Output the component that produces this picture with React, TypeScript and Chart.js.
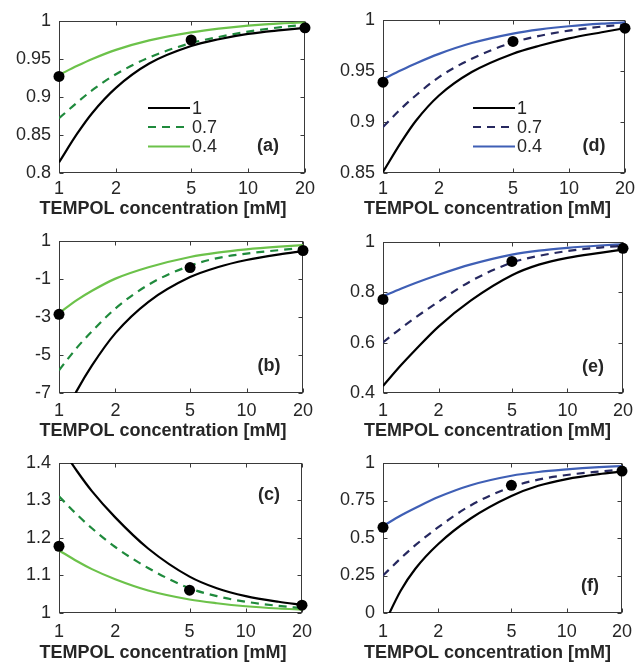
import React, { useEffect, useRef } from "react";
import { Chart, registerables } from "chart.js";

Chart.register(...registerables);

// ---------- data ----------
const concentrations = [1, 1.25, 1.5, 2, 3, 5, 7, 10, 15, 20];
const dotConcentrations = [1, 5, 20];
const xTicks = [1, 2, 5, 10, 20];
const xTickLabels = ["1", "2", "5", "10", "20"];
const legendLabels = ["1", "0.7", "0.4"];
const xTitle = "TEMPOL concentration [mM]";

const aBlack = [0.814, 0.852, 0.879, 0.912, 0.944, 0.967, 0.976, 0.983, 0.988, 0.991];
const aDashed = [0.872, 0.893, 0.909, 0.93, 0.952, 0.971, 0.979, 0.986, 0.992, 0.995];
const aColor = [0.929, 0.941, 0.95, 0.962, 0.9745, 0.985, 0.99, 0.994, 0.997, 0.998];
const aDots = [0.927, 0.975, 0.991];
const aYTicks = [0.8, 0.85, 0.9, 0.95, 1];
const aYLabels = ["0.8", "0.85", "0.9", "0.95", "1"];

const bBlack = [-8.7, -6.85, -5.55, -3.85, -2.2, -0.9, -0.38, 0.0, 0.3, 0.47];
const bDashed = [-5.8, -4.6, -3.75, -2.55, -1.3, -0.3, 0.1, 0.34, 0.52, 0.64];
const bColor = [-2.8, -2.1, -1.62, -0.98, -0.38, 0.16, 0.39, 0.56, 0.7, 0.78];
const bDots = [-2.86, -0.4, 0.5];
const bYTicks = [-7, -5, -3, -1, 1];
const bYLabels = ["-7", "-5", "-3", "-1", "1"];

const cBlack = [1.45, 1.378, 1.325, 1.255, 1.172, 1.097, 1.066, 1.045, 1.03, 1.022];
const cDashed = [1.311, 1.262, 1.226, 1.176, 1.12, 1.066, 1.045, 1.03, 1.019, 1.013];
const cColor = [1.167, 1.138, 1.117, 1.09, 1.06, 1.036, 1.026, 1.018, 1.012, 1.009];
const cDots = [1.178, 1.061, 1.021];
const cYTicks = [1, 1.1, 1.2, 1.3, 1.4];
const cYLabels = ["1", "1.1", "1.2", "1.3", "1.4"];

const dBlack = [0.851, 0.88, 0.901, 0.926, 0.949, 0.967, 0.975, 0.982, 0.988, 0.992];
const dDashed = [0.895, 0.913, 0.926, 0.944, 0.962, 0.978, 0.9846, 0.9896, 0.9935, 0.9955];
const dColor = [0.942, 0.9507, 0.9574, 0.9668, 0.9774, 0.9867, 0.9908, 0.9939, 0.9964, 0.9976];
const dDots = [0.939, 0.979, 0.992];
const dYTicks = [0.85, 0.9, 0.95, 1];
const dYLabels = ["0.85", "0.9", "0.95", "1"];

const eBlack = [0.428, 0.51, 0.572, 0.664, 0.768, 0.868, 0.91, 0.937, 0.957, 0.97];
const eDashed = [0.601, 0.657, 0.7, 0.763, 0.845, 0.918, 0.945, 0.964, 0.978, 0.985];
const eColor = [0.784, 0.814, 0.837, 0.87, 0.911, 0.95, 0.966, 0.977, 0.986, 0.991];
const eDots = [0.772, 0.923, 0.975];
const eYTicks = [0.4, 0.6, 0.8, 1];
const eYLabels = ["0.4", "0.6", "0.8", "1"];

const fBlack = [-0.09, 0.15, 0.295, 0.46, 0.63, 0.78, 0.848, 0.893, 0.926, 0.943];
const fDashed = [0.25, 0.365, 0.452, 0.572, 0.717, 0.84, 0.889, 0.92, 0.943, 0.956];
const fColor = [0.58, 0.65, 0.7, 0.773, 0.852, 0.915, 0.94, 0.957, 0.972, 0.98];
const fDots = [0.571, 0.851, 0.946];
const fYTicks = [0, 0.25, 0.5, 0.75, 1];
const fYLabels = ["0", "0.25", "0.5", "0.75", "1"];

// ---------- styles ----------
const FONT = "'Liberation Sans', Arial, Helvetica, sans-serif";
const TEXT = "#262626";
const AXIS = "#3a3a3a";
const GREEN_DARK = "#1f8a3c";
const GREEN_LIGHT = "#6cc24a";
const NAVY = "#26285f";
const BLUE = "#3f5fb5";

type PanelCfg = {
  label: string;
  black: number[];
  dashed: number[];
  color: number[];
  dots: number[];
  yTicks: number[];
  yLabels: string[];
  dashedColor: string;
  solidColor: string;
  legend: boolean;
  left: number;
  top: number;
  height: number;
  yWidth: number;
  padTop: number;
  padRight: number;
  xTickPad: number;
  titleX: number;
  titleY: number;
  tagX: number;
  tagY: number;
  legendX0: number;
  legendX1: number;
};

const panels: PanelCfg[] = [
  { label: "(a)", black: aBlack, dashed: aDashed, color: aColor, dots: aDots, yTicks: aYTicks, yLabels: aYLabels,
    dashedColor: GREEN_DARK, solidColor: GREEN_LIGHT, legend: true, left: 0, top: 0, height: 220,
    yWidth: 59, padTop: 21, padRight: 14, xTickPad: 5, titleX: 163, titleY: 213.5, tagX: 268, tagY: 146,
    legendX0: 148, legendX1: 190 },
  { label: "(b)", black: bBlack, dashed: bDashed, color: bColor, dots: bDots, yTicks: bYTicks, yLabels: bYLabels,
    dashedColor: GREEN_DARK, solidColor: GREEN_LIGHT, legend: false, left: 0, top: 220, height: 220,
    yWidth: 59, padTop: 21, padRight: 14, xTickPad: 7, titleX: 163, titleY: 215.5, tagX: 269, tagY: 146,
    legendX0: 0, legendX1: 0 },
  { label: "(c)", black: cBlack, dashed: cDashed, color: cColor, dots: cDots, yTicks: cYTicks, yLabels: cYLabels,
    dashedColor: GREEN_DARK, solidColor: GREEN_LIGHT, legend: false, left: 0, top: 440, height: 222,
    yWidth: 59, padTop: 23, padRight: 14, xTickPad: 8, titleX: 163, titleY: 217.5, tagX: 269, tagY: 55,
    legendX0: 0, legendX1: 0 },
  { label: "(d)", black: dBlack, dashed: dDashed, color: dColor, dots: dDots, yTicks: dYTicks, yLabels: dYLabels,
    dashedColor: NAVY, solidColor: BLUE, legend: true, left: 320, top: 0, height: 220,
    yWidth: 63, padTop: 20, padRight: 10, xTickPad: 5, titleX: 167.5, titleY: 213.5, tagX: 274, tagY: 146,
    legendX0: 153, legendX1: 195 },
  { label: "(e)", black: eBlack, dashed: eDashed, color: eColor, dots: eDots, yTicks: eYTicks, yLabels: eYLabels,
    dashedColor: NAVY, solidColor: BLUE, legend: false, left: 320, top: 220, height: 220,
    yWidth: 63, padTop: 22, padRight: 10, xTickPad: 7, titleX: 167.5, titleY: 215.5, tagX: 273, tagY: 147,
    legendX0: 0, legendX1: 0 },
  { label: "(f)", black: fBlack, dashed: fDashed, color: fColor, dots: fDots, yTicks: fYTicks, yLabels: fYLabels,
    dashedColor: NAVY, solidColor: BLUE, legend: false, left: 320, top: 440, height: 222,
    yWidth: 63, padTop: 23, padRight: 10, xTickPad: 8, titleX: 167.5, titleY: 217.5, tagX: 270, tagY: 146,
    legendX0: 0, legendX1: 0 },
];

const LEGEND_ROWS = [108, 127, 146.5];
const DASH = [8, 6];

function Panel({ cfg }: { cfg: PanelCfg }) {
  const ref = useRef<HTMLCanvasElement | null>(null);

  useEffect(() => {
    if (!ref.current) return;
    const toPts = (ys: number[]) => concentrations.map((x, i) => ({ x, y: ys[i] }));
    const dotPts = dotConcentrations.map((x, i) => ({ x, y: cfg.dots[i] }));

    const decor = {
      id: "decor",
      beforeDatasetsDraw(chart: any) {
        const { ctx, chartArea } = chart;
        const xs = chart.scales.x;
        const ys = chart.scales.y;
        const L = Math.round(chartArea.left) + 0.5;
        const R = Math.round(chartArea.right) - 0.5;
        const T = Math.round(chartArea.top) + 0.5;
        const B = Math.round(chartArea.bottom) - 0.5;
        ctx.save();
        ctx.strokeStyle = AXIS;
        ctx.lineWidth = 1;
        ctx.strokeRect(L, T, R - L, B - T);
        ctx.beginPath();
        const tl = 4;
        for (const v of xTicks) {
          const px = Math.round(xs.getPixelForValue(v)) + 0.5;
          ctx.moveTo(px, T);
          ctx.lineTo(px, T + tl);
          ctx.moveTo(px, B);
          ctx.lineTo(px, B - tl);
        }
        for (const v of cfg.yTicks) {
          const py = Math.round(ys.getPixelForValue(v)) + 0.5;
          ctx.moveTo(L, py);
          ctx.lineTo(L + tl, py);
          ctx.moveTo(R, py);
          ctx.lineTo(R - tl, py);
        }
        ctx.stroke();
        ctx.restore();
      },
      afterDraw(chart: any) {
        const { ctx } = chart;
        ctx.save();
        ctx.fillStyle = TEXT;
        ctx.font = `bold 18px ${FONT}`;
        ctx.textAlign = "center";
        ctx.textBaseline = "alphabetic";
        ctx.fillText(xTitle, cfg.titleX, cfg.titleY);
        ctx.textBaseline = "middle";
        ctx.fillText(cfg.label, cfg.tagX, cfg.tagY);
        if (cfg.legend) {
          const styles = [
            { c: "#000000", d: [] as number[] },
            { c: cfg.dashedColor, d: DASH },
            { c: cfg.solidColor, d: [] as number[] },
          ];
          ctx.font = `18px ${FONT}`;
          ctx.textAlign = "left";
          styles.forEach((s, i) => {
            const y = LEGEND_ROWS[i];
            ctx.beginPath();
            ctx.strokeStyle = s.c;
            ctx.lineWidth = 2.2;
            ctx.setLineDash(s.d);
            ctx.moveTo(cfg.legendX0, y);
            ctx.lineTo(cfg.legendX1, y);
            ctx.stroke();
            ctx.setLineDash([]);
            ctx.fillStyle = TEXT;
            ctx.fillText(legendLabels[i], cfg.legendX1 + 2, y + 1);
          });
        }
        ctx.restore();
      },
    };

    const chart = new Chart(ref.current, {
      type: "line",
      data: {
        datasets: [
          {
            label: "data",
            data: dotPts,
            showLine: false,
            pointRadius: 5.5,
            pointBackgroundColor: "#000000",
            pointBorderColor: "#000000",
            pointBorderWidth: 0,
            clip: false,
          } as any,
          {
            label: legendLabels[0],
            data: toPts(cfg.black),
            borderColor: "#000000",
            borderWidth: 2.2,
            pointRadius: 0,
            cubicInterpolationMode: "monotone",
          },
          {
            label: legendLabels[1],
            data: toPts(cfg.dashed),
            borderColor: cfg.dashedColor,
            borderWidth: 2.2,
            borderDash: DASH,
            pointRadius: 0,
            cubicInterpolationMode: "monotone",
          },
          {
            label: legendLabels[2],
            data: toPts(cfg.color),
            borderColor: cfg.solidColor,
            borderWidth: 2.2,
            pointRadius: 0,
            cubicInterpolationMode: "monotone",
          },
        ],
      },
      options: {
        responsive: false,
        animation: false,
        devicePixelRatio: 1,
        parsing: false as any,
        normalized: true,
        layout: {
          autoPadding: false,
          padding: { top: cfg.padTop, right: cfg.padRight, left: 0, bottom: 0 },
        },
        plugins: { legend: { display: false }, tooltip: { enabled: false } },
        scales: {
          x: {
            type: "logarithmic",
            min: 1,
            max: 20,
            grid: { display: false, drawTicks: false },
            border: { display: false },
            afterBuildTicks: (s: any) => {
              s.ticks = xTicks.map((v) => ({ value: v }));
            },
            afterFit: (s: any) => {
              s.height = cfg.height - 173;
            },
            ticks: {
              autoSkip: false,
              maxRotation: 0,
              minRotation: 0,
              padding: cfg.xTickPad,
              color: TEXT,
              font: { family: FONT, size: 18 },
              callback: (v: any) => xTickLabels[xTicks.indexOf(Number(v))] ?? "",
            },
          },
          y: {
            type: "linear",
            min: cfg.yTicks[0],
            max: cfg.yTicks[cfg.yTicks.length - 1],
            grid: { display: false, drawTicks: false },
            border: { display: false },
            afterBuildTicks: (s: any) => {
              s.ticks = cfg.yTicks.map((v) => ({ value: v }));
            },
            afterFit: (s: any) => {
              s.width = cfg.yWidth;
            },
            ticks: {
              autoSkip: false,
              padding: 8,
              color: TEXT,
              font: { family: FONT, size: 18 },
              callback: (v: any) => cfg.yLabels[cfg.yTicks.indexOf(Number(v))] ?? "",
            },
          },
        },
      } as any,
      plugins: [decor],
    });
    return () => chart.destroy();
  }, [cfg]);

  return (
    <canvas
      ref={ref}
      width={320}
      height={cfg.height}
      style={{ position: "absolute", left: cfg.left, top: cfg.top, width: 320, height: cfg.height, display: "block" }}
    />
  );
}

export default function App() {
  return (
    <div style={{ position: "absolute", left: 0, top: 0, width: 640, height: 662, background: "#ffffff", overflow: "hidden" }}>
      {panels.map((p) => (
        <Panel key={p.label} cfg={p} />
      ))}
    </div>
  );
}
